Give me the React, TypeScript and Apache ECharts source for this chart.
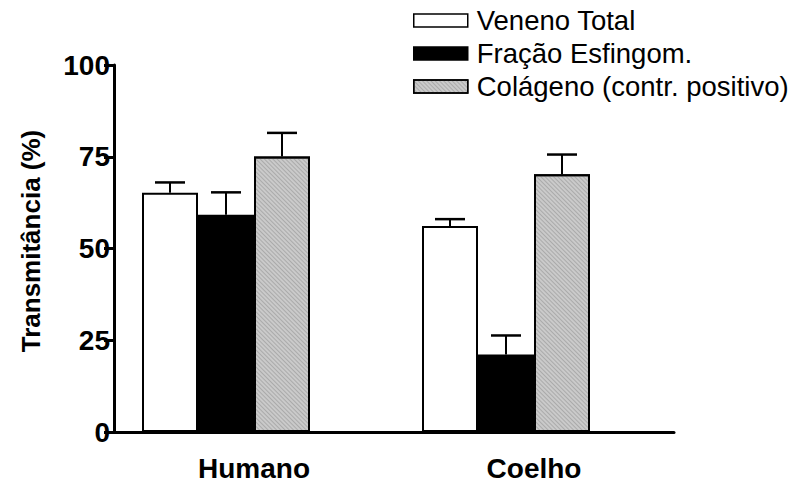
import React, { useEffect, useRef } from "react";
import * as echarts from "echarts";

// Groups on the x axis
const categories = ["Humano", "Coelho"];

// Mean transmittance (%) per group, and the upper error (SEM) per group
const venenoTotal = [65.2, 56.1];
const venenoTotalErr = [2.8, 1.9];
const fracaoEsfingom = [59.2, 21.1];
const fracaoEsfingomErr = [6.1, 5.2];
const colageno = [75.1, 70.2];
const colagenoErr = [6.4, 5.4];

const yTicks = { min: 0, max: 100, interval: 25 };

const seriesNames = ["Veneno Total", "Fração Esfingom.", "Colágeno (contr. positivo)"];
const fills = ["#ffffff", "#000000", "#cacaca"];

const FONT = "'Liberation Sans', Arial, Helvetica, sans-serif";
const BAR_W = 56;
const SLOTS = 4; // three visible bars + one empty slot so each group sits left of its band centre

// fine diagonal hatch for the collagen bars
const hatch = {
  symbol: "rect",
  symbolSize: 1,
  dashArrayX: [1, 0],
  dashArrayY: [1, 2],
  rotation: Math.PI / 4,
  color: "rgba(110,110,110,0.35)",
};

export default function App() {
  const ref = useRef<HTMLDivElement>(null);

  useEffect(() => {
    if (!ref.current) return;
    const chart = echarts.init(ref.current, null, { renderer: "svg" });

    const values = [venenoTotal, fracaoEsfingom, colageno];
    const errs = [venenoTotalErr, fracaoEsfingomErr, colagenoErr];

    const barSeries = values.map((v, i) => ({
      name: seriesNames[i],
      type: "bar",
      data: v,
      barWidth: BAR_W,
      barGap: "0%",
      itemStyle: {
        color: fills[i],
        borderColor: "#000",
        borderWidth: 2,
        ...(i === 2 ? { decal: hatch } : {}),
      },
      z: 2,
    }));

    const errData: number[][] = [];
    values.forEach((v, i) => {
      v.forEach((m, c) => errData.push([c, m, errs[i][c], i]));
    });

    const option: any = {
      animation: false,
      backgroundColor: "#fff",
      aria: { enabled: false, decal: { show: false } },
      grid: { left: 114, top: 65, width: 560, height: 372, containLabel: false },
      legend: {
        orient: "vertical",
        left: 413,
        top: 4,
        padding: 0,
        itemWidth: 54,
        itemHeight: 13,
        itemGap: 0,
        icon: "rect",
        data: seriesNames.map((n, i) => ({
          name: n,
          itemStyle: { color: fills[i], borderColor: "#000", borderWidth: 1.5 },
        })),
        textStyle: { fontFamily: FONT, fontSize: 27.5, color: "#000", lineHeight: 33, padding: [0, 0, 0, 4] },
        selectedMode: false,
      },
      graphic: [
        {
          type: "text",
          x: 31,
          y: 241,
          rotation: Math.PI / 2,
          style: {
            text: "Transmitância (%)",
            fontFamily: FONT,
            fontSize: 26,
            fontWeight: "bold",
            fill: "#000",
            align: "center",
            verticalAlign: "middle",
          },
        },
      ],
      xAxis: {
        type: "category",
        data: categories,
        axisLine: { lineStyle: { color: "#000", width: 3 } },
        axisTick: { show: false },
        axisLabel: { fontFamily: FONT, fontSize: 28, fontWeight: "bold", color: "#000", margin: 22 },
      },
      yAxis: {
        type: "value",
        min: yTicks.min,
        max: yTicks.max,
        interval: yTicks.interval,
        axisLine: { show: true, lineStyle: { color: "#000", width: 3 } },
        axisTick: { show: true, length: 10, lineStyle: { color: "#000", width: 3 } },
        axisLabel: { fontFamily: FONT, fontSize: 28, fontWeight: "bold", color: "#000", margin: 4 },
        splitLine: { show: false },
      },
      series: [
        ...barSeries,
        {
          name: "_pad",
          type: "bar",
          data: categories.map(() => null),
          barWidth: BAR_W,
          barGap: "0%",
          silent: true,
        },
        {
          type: "custom",
          name: "err",
          data: errData,
          z: 5,
          silent: true,
          renderItem: (params: any, api: any) => {
            const c = api.value(0);
            const m = api.value(1);
            const e = api.value(2);
            const s = api.value(3);
            const base = api.coord([c, m]);
            const top = api.coord([c, m + e]);
            const x = base[0] + (s - (SLOTS - 1) / 2) * BAR_W;
            const capHalf = 15;
            return {
              type: "group",
              children: [
                {
                  type: "line",
                  shape: { x1: x, y1: base[1], x2: x, y2: top[1] },
                  style: { stroke: "#000", lineWidth: 2 },
                },
                {
                  type: "line",
                  shape: { x1: x - capHalf, y1: top[1], x2: x + capHalf, y2: top[1] },
                  style: { stroke: "#000", lineWidth: 2.5 },
                },
              ],
            };
          },
        },
      ],
    };

    chart.setOption(option);
    return () => chart.dispose();
  }, []);

  return (
    <div
      ref={ref}
      style={{ position: "absolute", left: 0, top: 0, width: 791, height: 482 }}
    />
  );
}
